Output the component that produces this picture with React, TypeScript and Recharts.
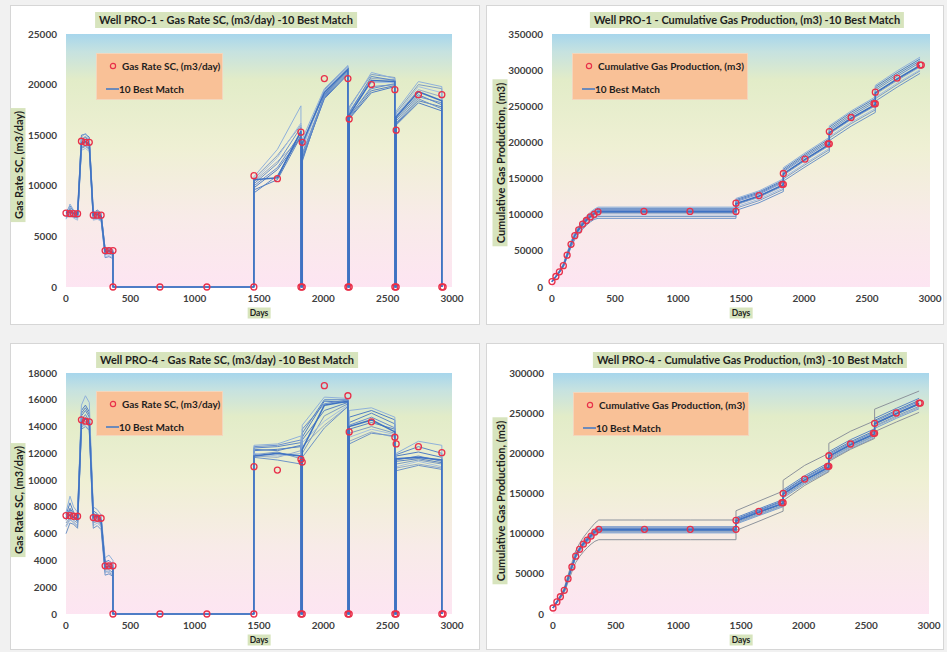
import React from 'react';
import { ComposedChart, Line, XAxis, YAxis, CartesianGrid } from 'recharts';

// ---------- time grids ----------
// Simulation output days (duplicated days carry the vertical steps of shut-ins / restarts)
const DAYS_RATE = [0, 31, 59, 90, 120, 151, 181, 212, 243, 273, 304, 334, 365, 365, 730, 1095, 1460, 1461, 1643, 1826, 1826, 1836, 1836, 2008, 2191, 2191, 2201, 2201, 2374, 2556, 2556, 2566, 2566, 2739, 2921, 2921];
const DAYS_CUM = [0, 31, 59, 90, 120, 151, 181, 212, 243, 273, 304, 334, 365, 730, 1095, 1460, 1460, 1643, 1836, 1836, 2008, 2201, 2201, 2374, 2566, 2566, 2739, 2921];

// Observation days
const OBS_DAYS_RATE = [0, 31, 59, 90, 120, 151, 181, 212, 243, 273, 304, 334, 365, 365, 730, 1095, 1460, 1461, 1643, 1826, 1826, 1836, 1836, 2008, 2191, 2191, 2201, 2201, 2374, 2556, 2556, 2566, 2566, 2739, 2921, 2921, 2931];
const OBS_DAYS_CUM = [0, 31, 59, 90, 120, 151, 181, 212, 243, 273, 304, 334, 365, 730, 1095, 1460, 1460, 1643, 1826, 1836, 1836, 2008, 2191, 2201, 2201, 2374, 2556, 2566, 2566, 2739, 2921, 2931];

// ---------- axis ticks ----------
const X_TICKS = [0, 500, 1000, 1500, 2000, 2500, 3000];
const Y_TICKS_PRO1_RATE = [0, 5000, 10000, 15000, 20000, 25000];
const Y_TICKS_PRO1_CUM = [0, 50000, 100000, 150000, 200000, 250000, 300000, 350000];
const Y_TICKS_PRO4_RATE = [0, 2000, 4000, 6000, 8000, 10000, 12000, 14000, 16000, 18000];
const Y_TICKS_PRO4_CUM = [0, 50000, 100000, 150000, 200000, 250000, 300000];

// ---------- Well PRO-1 gas rate ----------
const PRO1_RATE_OBS = [7300, 7250, 7250, 7250, 14400, 14300, 14300, 7100, 7100, 7100, 3600, 3600, 3600, 0, 0, 0, 0, 11000, 10700, 15300, 0, 0, 14300, 20600, 20600, 0, 0, 16600, 20000, 19500, 0, 0, 15500, 19000, 19000, 0, 0];
const PRO1_RATE_RUNS = [
  [7300, 7400, 7300, 7200, 14200, 14400, 14100, 7100, 7200, 7000, 3500, 3600, 3400, 0, 0, 0, 0, 10600, 10800, 15400, 0, 0, 14200, 19200, 21500, 0, 0, 17000, 20400, 20300, 0, 0, 16800, 19300, 18400, 0],
  [7000, 8200, 7600, 7400, 14800, 15200, 14600, 7400, 7500, 7200, 3800, 3900, 3700, 0, 0, 0, 0, 10900, 13600, 17900, 0, 0, 14600, 19600, 21900, 0, 0, 17600, 21200, 20600, 0, 0, 17400, 20300, 19800, 0],
  [6900, 7800, 7200, 7100, 13800, 14000, 13700, 6800, 6900, 6700, 3200, 3300, 3100, 0, 0, 0, 0, 10200, 12200, 15800, 0, 0, 13000, 18800, 21200, 0, 0, 16800, 19800, 20000, 0, 0, 16200, 18600, 17600, 0],
  [7200, 7600, 7000, 6900, 14500, 14800, 14300, 7000, 7300, 6900, 3400, 3500, 3300, 0, 0, 0, 0, 9300, 11000, 15000, 0, 0, 12400, 19000, 21400, 0, 0, 17200, 20800, 20400, 0, 0, 16600, 19000, 18000, 0],
  [6700, 7300, 6800, 6600, 13500, 13700, 13400, 6600, 6700, 6500, 3000, 3100, 2900, 0, 0, 0, 0, 10500, 12800, 16200, 0, 0, 13600, 19400, 21700, 0, 0, 17400, 20200, 20200, 0, 0, 17000, 19800, 19200, 0],
  [7400, 8000, 7500, 7300, 15000, 15100, 14800, 7300, 7600, 7300, 3700, 3800, 3600, 0, 0, 0, 0, 9800, 11600, 14800, 0, 0, 12800, 18600, 21000, 0, 0, 16600, 19200, 19800, 0, 0, 16000, 18200, 17400, 0],
  [7100, 7500, 7100, 7000, 14000, 14200, 13900, 6900, 7000, 6800, 3300, 3400, 3200, 0, 0, 0, 0, 10700, 13000, 16000, 0, 0, 14000, 19500, 21800, 0, 0, 17800, 21000, 20700, 0, 0, 17200, 20000, 19600, 0],
  [6800, 7200, 6900, 6800, 13700, 13900, 13600, 6700, 6800, 6600, 2900, 3000, 2800, 0, 0, 0, 0, 10000, 11800, 15200, 0, 0, 13200, 18900, 21300, 0, 0, 16900, 19600, 20100, 0, 0, 16400, 18800, 18200, 0],
  [7300, 7700, 7400, 7200, 14600, 14900, 14500, 7200, 7400, 7100, 3600, 3700, 3500, 0, 0, 0, 0, 10400, 12400, 14600, 0, 0, 13800, 19300, 21600, 0, 0, 17300, 20600, 20500, 0, 0, 16900, 19500, 18800, 0],
  [7000, 7100, 7000, 6900, 14100, 14300, 14000, 7100, 7100, 6900, 3500, 3500, 3300, 0, 0, 0, 0, 9600, 10600, 14900, 0, 0, 12600, 18700, 21100, 0, 0, 16700, 19400, 19900, 0, 0, 16100, 18400, 17800, 0],
];

// ---------- Well PRO-1 cumulative gas ----------
const PRO1_CUM_OBS = [7500, 14500, 21000, 29500, 44000, 59000, 71000, 79000, 87000, 92000, 97000, 100500, 104000, 104500, 104500, 104500, 116000, 126500, 142000, 142000, 157000, 177000, 198000, 198000, 215000, 234500, 253500, 253500, 269500, 289000, 307000, 307000];
const PRO1_CUM_RUNS = [
  [7500, 14600, 21200, 29800, 44200, 59200, 71200, 79500, 86500, 92500, 97500, 101500, 104500, 104500, 104500, 104500, 115500, 126000, 141500, 156500, 176500, 197500, 213500, 233500, 252500, 268500, 288000, 306500],
  [7600, 15200, 22400, 31800, 47500, 63000, 75500, 84000, 91500, 98000, 103500, 107500, 110500, 110500, 110500, 110500, 122500, 133000, 149500, 165000, 185500, 207000, 223000, 243500, 263000, 279000, 299000, 318000],
  [7400, 13800, 19800, 27500, 41000, 55000, 66000, 73500, 80000, 85500, 90000, 93500, 95000, 95000, 95000, 95000, 106000, 116500, 132000, 146500, 166000, 187000, 202500, 222500, 241500, 257000, 276500, 295500],
  [7500, 14800, 21600, 30500, 45500, 61000, 73500, 81500, 89000, 95000, 100000, 104500, 107500, 107500, 107500, 107500, 119500, 130000, 146000, 161000, 181500, 202500, 218500, 239000, 258500, 274500, 294000, 313000],
  [7450, 14200, 20500, 28600, 42500, 57000, 68500, 76000, 83000, 88500, 93000, 97000, 99500, 99500, 99500, 99500, 111000, 121500, 137000, 151500, 171000, 192000, 208000, 228000, 247000, 262500, 282000, 300500],
  [7550, 15000, 22000, 31200, 46500, 62000, 74500, 83000, 90500, 96500, 101500, 106000, 109000, 109000, 109000, 109000, 121000, 131500, 147500, 163000, 183500, 205000, 221000, 241500, 261000, 277000, 296500, 315500],
  [7450, 14000, 20200, 28200, 42000, 56000, 67500, 75000, 81500, 87000, 91500, 95000, 97500, 97500, 97500, 97500, 109000, 119500, 135000, 149500, 169000, 190000, 206000, 226000, 245000, 260500, 280000, 299000],
  [7500, 14700, 21400, 30200, 45000, 60500, 72500, 80500, 88000, 94000, 99000, 103000, 106000, 106000, 106000, 106000, 118000, 128500, 144500, 159500, 179500, 200500, 216500, 236500, 256000, 272000, 291500, 310500],
  [7500, 14300, 20800, 29000, 43200, 58000, 69800, 77500, 84500, 90500, 95000, 99000, 102000, 102000, 102000, 102000, 113500, 124000, 139500, 154500, 174500, 195500, 211500, 231500, 250500, 266500, 285500, 304500],
  [7500, 14400, 21000, 29300, 43600, 58600, 70500, 78500, 85500, 91000, 96000, 100000, 103000, 103000, 103000, 103000, 114500, 125000, 141000, 156000, 176000, 197000, 213000, 233000, 252000, 268000, 287000, 306000],
];

// ---------- Well PRO-4 gas rate ----------
const PRO4_RATE_OBS = [7350, 7350, 7300, 7300, 14500, 14400, 14350, 7200, 7150, 7150, 3600, 3600, 3600, 0, 0, 0, 0, 11000, 10750, 11550, 0, 0, 11350, 17050, 16300, 0, 0, 13600, 14350, 13200, 0, 0, 12700, 12500, 12050, 0, 0];
const PRO4_RATE_RUNS = [
  [7200, 7400, 7200, 7100, 14300, 14600, 14200, 7200, 7300, 7000, 3500, 3600, 3400, 0, 0, 0, 0, 11800, 12000, 11800, 0, 0, 12300, 15600, 15900, 0, 0, 14000, 14500, 13600, 0, 0, 11600, 11700, 11500, 0],
  [7600, 8800, 8000, 7600, 15600, 16300, 15800, 8000, 7800, 7400, 4200, 4400, 4000, 0, 0, 0, 0, 12600, 12700, 13300, 0, 0, 14100, 16200, 16100, 0, 0, 15200, 15400, 14700, 0, 0, 12000, 12900, 12600, 0],
  [6000, 6800, 6700, 6400, 13800, 14000, 13700, 6400, 6600, 6300, 2900, 3000, 2800, 0, 0, 0, 0, 11700, 11500, 11200, 0, 0, 11700, 13900, 15500, 0, 0, 12700, 13500, 13300, 0, 0, 10700, 11100, 10800, 0],
  [7000, 7800, 7200, 6900, 14800, 15200, 14700, 7400, 7200, 6900, 3700, 3800, 3500, 0, 0, 0, 0, 12400, 12500, 12800, 0, 0, 13500, 16000, 16000, 0, 0, 14300, 15000, 14200, 0, 0, 11900, 12500, 12000, 0],
  [6500, 7000, 6900, 6600, 14000, 14100, 13800, 6600, 6800, 6500, 3100, 3200, 3000, 0, 0, 0, 0, 12000, 11800, 12000, 0, 0, 12800, 14400, 15600, 0, 0, 13200, 13800, 13400, 0, 0, 11000, 11400, 11000, 0],
  [7400, 8300, 7600, 7300, 15200, 15600, 15100, 7700, 7500, 7100, 3900, 4000, 3700, 0, 0, 0, 0, 12200, 12300, 12500, 0, 0, 13200, 15900, 15800, 0, 0, 14700, 15200, 14500, 0, 0, 11800, 12100, 11700, 0],
  [6800, 7200, 7000, 6800, 13900, 14300, 14000, 6900, 7000, 6700, 3300, 3300, 3100, 0, 0, 0, 0, 11900, 12100, 11600, 0, 0, 12000, 14800, 15700, 0, 0, 13500, 14000, 13500, 0, 0, 11200, 11500, 11200, 0],
  [7100, 7500, 7300, 7000, 14500, 14900, 14400, 7100, 7100, 6800, 3400, 3500, 3300, 0, 0, 0, 0, 12500, 12600, 13000, 0, 0, 13800, 15700, 16000, 0, 0, 14100, 14700, 13900, 0, 0, 11500, 11800, 11400, 0],
  [6600, 7100, 6800, 6500, 14100, 14400, 14100, 6800, 6900, 6600, 3200, 3100, 2900, 0, 0, 0, 0, 11800, 11700, 12200, 0, 0, 12500, 14100, 15500, 0, 0, 12900, 13600, 13200, 0, 0, 10900, 11200, 10900, 0],
  [7300, 7900, 7500, 7200, 15000, 15400, 14900, 7500, 7400, 7000, 3800, 3700, 3600, 0, 0, 0, 0, 12300, 12200, 12600, 0, 0, 13000, 15200, 15800, 0, 0, 13800, 14300, 13800, 0, 0, 11400, 11600, 11300, 0],
];

// ---------- Well PRO-4 cumulative gas ----------
const PRO4_CUM_OBS = [7500, 15000, 21500, 29500, 44000, 58500, 72000, 80500, 87000, 92000, 97000, 102000, 105400, 105400, 105400, 105400, 116600, 127800, 138600, 138600, 150200, 168000, 183800, 183800, 197000, 211600, 224900, 224900, 237300, 250200, 262600, 262600];
const PRO4_CUM_RUNS = [
  [7500, 15000, 21600, 29800, 44300, 59000, 72300, 80800, 87400, 92500, 97500, 102200, 105000, 105000, 105000, 105000, 116000, 127000, 138000, 149500, 167000, 183000, 196500, 211000, 224500, 237000, 249500, 262000],
  [7600, 16000, 23500, 32500, 48500, 64000, 78500, 88000, 95500, 101500, 107500, 113000, 117000, 117000, 117000, 117000, 128500, 140500, 153000, 166500, 185000, 200000, 212500, 227500, 240500, 255000, 266000, 277500],
  [7400, 14000, 19500, 26500, 39500, 52500, 64000, 71500, 77500, 82500, 87000, 90500, 92500, 92500, 92500, 92500, 104000, 115500, 128000, 141000, 160000, 177000, 190000, 205000, 218500, 227000, 239000, 251000],
  [7500, 15300, 22200, 30600, 45500, 60500, 74500, 83000, 90000, 95500, 100500, 105500, 108500, 108500, 108500, 108500, 120000, 131000, 142500, 154500, 172000, 188500, 202000, 217000, 230500, 243500, 256000, 268500],
  [7450, 14600, 20900, 28600, 42800, 57000, 70000, 78000, 84500, 89500, 94000, 98500, 101000, 101000, 101000, 101000, 112000, 122500, 133500, 144500, 162000, 178000, 191500, 206000, 219500, 231000, 243500, 255500],
  [7550, 15200, 21900, 30200, 45000, 60000, 73500, 82000, 89000, 94500, 99500, 104500, 107000, 107000, 107000, 107000, 118500, 129500, 141000, 152500, 170000, 186500, 200000, 214500, 228000, 241000, 253500, 266000],
  [7450, 14800, 21200, 29000, 43400, 57800, 71000, 79200, 85800, 90800, 95800, 100500, 103000, 103000, 103000, 103000, 114000, 124500, 135500, 147000, 164500, 180500, 194000, 208500, 222000, 234000, 246500, 258500],
  [7500, 15100, 21700, 30000, 44600, 59500, 73000, 81500, 88200, 93300, 98300, 103000, 106000, 106000, 106000, 106000, 117500, 128500, 140000, 151500, 169000, 185000, 198500, 213000, 226500, 239500, 252000, 264500],
  [7500, 14700, 21000, 28800, 43000, 57300, 70500, 78600, 85000, 90000, 95000, 99500, 102000, 102000, 102000, 102000, 113000, 123500, 134500, 146000, 163500, 179500, 193000, 207500, 221000, 233000, 245000, 257000],
  [7500, 14900, 21400, 29300, 43800, 58300, 71600, 80000, 86600, 91600, 96600, 101200, 104000, 104000, 104000, 104000, 115000, 126000, 137000, 148500, 166000, 182000, 195500, 210000, 223500, 236000, 248500, 261000],
];

// ---------- styling ----------
const FONT = 'Lato, "Open Sans", "DejaVu Sans", sans-serif';
const LABEL_BG = '#d7e4bd';
const LEGEND_BG = '#f9c197';
const OBS_RED = '#e8304a';
const RUN_COLORS = ['#3f72c2', '#8fb1db', '#6d93c9', '#5b86c6', '#a3bde0', '#4f7dc4', '#7d9cc4', '#6a8fcf', '#94aac8', '#5a83c0'];
const RUN_COLORS_PRO4_CUM = ['#3f72c2', '#8d939c', '#8d939c', '#5b86c6', '#7a9fd0', '#4f7dc4', '#7d9cc4', '#6a8fcf', '#94aac8', '#5a83c0'];

type Box = { x: number; y: number; w: number; h: number };
type Plot = { left: number; right: number; top: number; bottom: number };

type PanelProps = {
  box: Box;
  plot: Plot;
  title: string;
  titleAt: [number, number];
  yLabel: string;
  yLabelAt: [number, number];
  daysAt: [number, number];
  legend: Box;
  legendText: string;
  yTicks: number[];
  days: number[];
  runs: number[][];
  obsDays: number[];
  obs: number[];
  colors: string[];
};

const pairs = (days: number[], values: number[]) => days.map((d, i) => ({ d, v: values[i] }));

const tickStyle = { fontSize: 10, fontWeight: 700, fill: '#3f3f3f', fontFamily: FONT };

function Panel(p: PanelProps) {
  const xAxisH = 20;
  const yAxisW = 50;
  const margin = {
    top: p.plot.top - p.box.y,
    right: p.box.x + p.box.w - p.plot.right,
    bottom: p.box.y + p.box.h - p.plot.bottom - xAxisH,
    left: p.plot.left - p.box.x - yAxisW,
  };
  const yMax = p.yTicks[p.yTicks.length - 1];
  const order = p.runs.map((_, i) => i).slice(1).reverse().concat([0]);
  return (
    <>
      <div
        style={{
          position: 'absolute', left: p.box.x, top: p.box.y, width: p.box.w, height: p.box.h,
          background: '#ffffff', border: '1px solid #d6d6d6', boxSizing: 'border-box',
        }}
      />
      <div style={{ position: 'absolute', left: p.box.x, top: p.box.y }}>
        <ComposedChart width={p.box.w} height={p.box.h} margin={margin}>
          <CartesianGrid horizontal={false} vertical={false} fill="url(#plotBg)" stroke="#c8dbe6" />
          <XAxis
            type="number" dataKey="d" domain={[0, 3000]} ticks={X_TICKS} height={xAxisH}
            tickLine={false} axisLine={false} tickSize={0} tickMargin={8} tick={tickStyle} interval={0}
          />
          <YAxis
            type="number" domain={[0, yMax]} ticks={p.yTicks} width={yAxisW}
            tickLine={false} axisLine={false} tickSize={0} tickMargin={9} tick={tickStyle} interval={0}
          />
          {order.map((i) => (
            <Line
              key={'run' + i}
              data={pairs(p.days, p.runs[i])}
              dataKey="v"
              type="linear"
              stroke={p.colors[i]}
              strokeWidth={i === 0 ? 1.6 : 1}
              dot={false}
              activeDot={false}
              isAnimationActive={false}
            />
          ))}
          <Line
            data={pairs(p.obsDays, p.obs)}
            dataKey="v"
            stroke="none"
            dot={{ r: 3, stroke: OBS_RED, strokeWidth: 1.3, fill: 'none' }}
            activeDot={false}
            isAnimationActive={false}
          />
        </ComposedChart>
      </div>
      {/* chart title */}
      <div
        style={{
          position: 'absolute', left: p.titleAt[0], top: p.titleAt[1], transform: 'translate(-50%, -50%)',
          background: LABEL_BG, padding: '1px 4px', whiteSpace: 'nowrap',
          fontFamily: FONT, fontWeight: 700, fontSize: 11, color: '#1e1e1e', lineHeight: '14px',
        }}
      >
        {p.title}
      </div>
      {/* vertical axis title */}
      <div
        style={{
          position: 'absolute', left: p.yLabelAt[0], top: p.yLabelAt[1], transform: 'translate(-50%, -50%) rotate(-90deg)',
          background: LABEL_BG, padding: '1px 3px', whiteSpace: 'nowrap',
          fontFamily: FONT, fontWeight: 700, fontSize: 11, color: '#1e1e1e', lineHeight: '13px',
        }}
      >
        {p.yLabel}
      </div>
      {/* horizontal axis title */}
      <div
        style={{
          position: 'absolute', left: p.daysAt[0], top: p.daysAt[1], transform: 'translate(-50%, -50%)',
          background: LABEL_BG, padding: '0px 2px', whiteSpace: 'nowrap',
          fontFamily: FONT, fontWeight: 700, fontSize: 8.5, color: '#1e1e1e', lineHeight: '11px',
        }}
      >
        Days
      </div>
      {/* legend */}
      <div
        style={{
          position: 'absolute', left: p.legend.x, top: p.legend.y, width: p.legend.w, height: p.legend.h,
          background: LEGEND_BG, boxSizing: 'border-box', border: '1px solid #f3d6bd',
          fontFamily: FONT, fontWeight: 700, fontSize: 10, color: '#1e1e1e',
        }}
      >
        <div style={{ position: 'absolute', left: 8, top: 5, height: 14, display: 'flex', alignItems: 'center', whiteSpace: 'nowrap' }}>
          <svg width={14} height={14} style={{ marginRight: 3 }}>
            <circle cx={8} cy={7} r={2.6} fill="none" stroke={OBS_RED} strokeWidth={1.2} />
          </svg>
          {p.legendText}
        </div>
        <div style={{ position: 'absolute', left: 8, top: 28, height: 14, display: 'flex', alignItems: 'center', whiteSpace: 'nowrap' }}>
          <svg width={14} height={14} style={{ marginRight: 0 }}>
            <line x1={1} y1={7} x2={14} y2={7} stroke="#4a7cc4" strokeWidth={1.6} />
          </svg>
          10 Best Match
        </div>
      </div>
    </>
  );
}

export default function App() {
  return (
    <div style={{ position: 'absolute', left: 0, top: 0, width: 947, height: 652, background: '#f1f1f1', overflow: 'hidden' }}>
      <svg width={0} height={0} style={{ position: 'absolute' }}>
        <defs>
          <linearGradient id="plotBg" x1="0" y1="0" x2="0" y2="1">
            <stop offset="0%" stopColor="#a7d6ec" />
            <stop offset="7%" stopColor="#c6e2e0" />
            <stop offset="18%" stopColor="#e2ecc8" />
            <stop offset="45%" stopColor="#eff0d4" />
            <stop offset="72%" stopColor="#f8ebe8" />
            <stop offset="100%" stopColor="#fde5f2" />
          </linearGradient>
        </defs>
      </svg>
      <Panel
        box={{ x: 10, y: 5, w: 470, h: 320 }}
        plot={{ left: 66, right: 452, top: 34, bottom: 287 }}
        title="Well PRO-1 - Gas Rate SC, (m3/day) -10 Best Match"
        titleAt={[226, 20]}
        yLabel="Gas Rate SC, (m3/day)"
        yLabelAt={[18, 165]}
        daysAt={[259, 313]}
        legend={{ x: 96, y: 53, w: 127, h: 47 }}
        legendText="Gas Rate SC, (m3/day)"
        yTicks={Y_TICKS_PRO1_RATE}
        days={DAYS_RATE}
        runs={PRO1_RATE_RUNS}
        obsDays={OBS_DAYS_RATE}
        obs={PRO1_RATE_OBS}
        colors={RUN_COLORS}
      />
      <Panel
        box={{ x: 486, y: 5, w: 458, h: 320 }}
        plot={{ left: 552, right: 930, top: 34, bottom: 287 }}
        title="Well PRO-1 - Cumulative Gas Production, (m3) -10 Best Match"
        titleAt={[747, 20]}
        yLabel="Cumulative Gas Production, (m3)"
        yLabelAt={[500, 163]}
        daysAt={[741, 313]}
        legend={{ x: 572, y: 53, w: 176, h: 47 }}
        legendText="Cumulative Gas Production, (m3)"
        yTicks={Y_TICKS_PRO1_CUM}
        days={DAYS_CUM}
        runs={PRO1_CUM_RUNS}
        obsDays={OBS_DAYS_CUM}
        obs={PRO1_CUM_OBS}
        colors={RUN_COLORS}
      />
      <Panel
        box={{ x: 10, y: 343, w: 470, h: 307 }}
        plot={{ left: 66, right: 452, top: 373, bottom: 614 }}
        title="Well PRO-4 - Gas Rate SC, (m3/day) -10 Best Match"
        titleAt={[227, 360]}
        yLabel="Gas Rate SC, (m3/day)"
        yLabelAt={[18, 500]}
        daysAt={[259, 640]}
        legend={{ x: 96, y: 391, w: 127, h: 45 }}
        legendText="Gas Rate SC, (m3/day)"
        yTicks={Y_TICKS_PRO4_RATE}
        days={DAYS_RATE}
        runs={PRO4_RATE_RUNS}
        obsDays={OBS_DAYS_RATE}
        obs={PRO4_RATE_OBS}
        colors={RUN_COLORS}
      />
      <Panel
        box={{ x: 486, y: 343, w: 458, h: 307 }}
        plot={{ left: 553, right: 929, top: 373, bottom: 614 }}
        title="Well PRO-4 - Cumulative Gas Production, (m3) -10 Best Match"
        titleAt={[750, 360]}
        yLabel="Cumulative Gas Production, (m3)"
        yLabelAt={[500, 501]}
        daysAt={[741, 640]}
        legend={{ x: 573, y: 392, w: 176, h: 44 }}
        legendText="Cumulative Gas Production, (m3)"
        yTicks={Y_TICKS_PRO4_CUM}
        days={DAYS_CUM}
        runs={PRO4_CUM_RUNS}
        obsDays={OBS_DAYS_CUM}
        obs={PRO4_CUM_OBS}
        colors={RUN_COLORS_PRO4_CUM}
      />
    </div>
  );
}
